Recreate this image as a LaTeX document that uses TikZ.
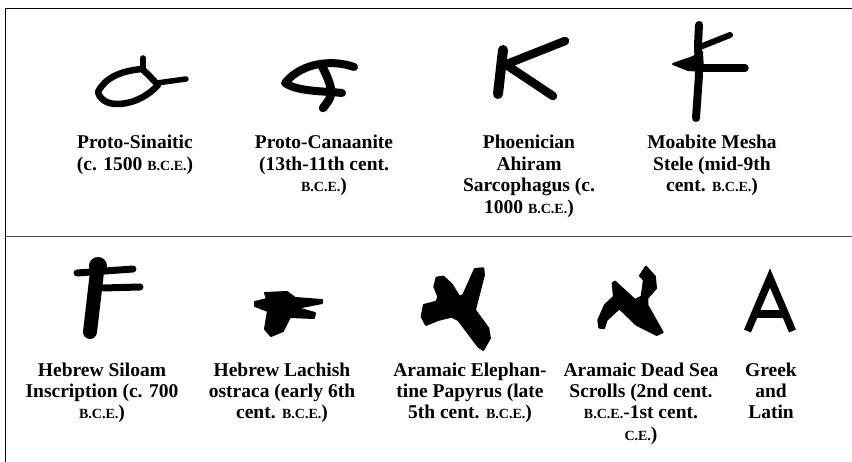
\documentclass[tikz,border=0pt]{standalone}
\usepackage{fontspec}
\setmainfont{Liberation Serif}
\newcommand{\era}[1]{{\fontsize{14}{21}\selectfont #1}}
\begin{document}
\begin{tikzpicture}[x=1pt, y=-1pt]
        \tikzstyle{scriptlabel} = [anchor=base, align=center, inner sep=0pt, font=\fontsize{19.5}{21.5}\selectfont\bfseries]
        \tikzstyle{stroke} = [line width=5pt, line cap=round, line join=round]
        \tikzstyle{blob} = [fill=black, draw=black, line width=2pt, line join=round]
        \useasboundingbox (0, 0) rectangle (852, 462);
        % frame
        \draw[line width=1pt] (852, 9) -- (5, 9) -- (5, 462);
        \draw[line width=1.5pt, black!70] (5, 236.5) -- (852, 236.5);
        % top row
        \draw[stroke, line width=6.5pt] (98, 92) .. controls (105, 78) and (120, 71) .. (142, 69) .. controls (150, 76) and (153, 80) .. (158, 85) .. controls (150, 94) and (135, 104) .. (117, 104) .. controls (108, 104) and (100, 100) .. (98, 92) -- cycle;
        \draw[stroke, line width=5.5pt] (143, 58) -- (143, 68);
        \draw[stroke, line width=5.5pt] (157, 83) -- (186, 79);
        \draw[stroke, line width=8pt] (354, 67) .. controls (335, 60) and (303, 61) .. (285, 83) .. controls (298, 92) and (325, 91) .. (342, 93);
        \draw[stroke, line width=8.5pt] (322, 66) .. controls (328, 78) and (332, 88) .. (331, 94) .. controls (330, 100) and (326, 104) .. (323, 108);
        \draw[stroke, line width=10pt] (503, 50) -- (498, 94);
        \draw[stroke, line width=8.5pt] (507, 64) -- (565, 41);
        \draw[stroke, line width=8.5pt] (508, 66) -- (553, 96);
        \draw[stroke, line width=8pt] (699, 25) -- (698, 45) -- (699, 75) -- (696, 118);
        \draw[stroke, line width=6pt] (700, 47) -- (730, 35);
        \draw[stroke, line width=7.5pt] (700, 68) -- (745, 68);
        \fill[blob] (673, 64) -- (693, 57) -- (702, 52) -- (703, 71) -- (688, 70) -- cycle;
        % bottom row
        \fill[blob] (98, 266) circle (8);
        \draw[stroke, line width=7pt] (77, 273) -- (133, 269);
        \draw[stroke, line width=7pt] (103, 288) -- (140, 287);
        \draw[stroke, line width=14pt] (97, 272) -- (90, 332);
        \fill[blob] (265, 293) -- (287, 292) -- (295, 298) -- (322, 300) -- (322, 303) -- (297, 308) -- (315, 313) -- (314, 318) -- (290, 317) -- (283, 331) -- (271, 336) -- (265, 329) -- (268, 311) -- (255, 306) -- (255, 302) -- (267, 299) -- cycle;
        \begin{scope}[shift={(400, 255)}, x=0.333pt, y=-0.333pt]
          \fill[blob] (110, 68) -- (130, 65) -- (155, 88) -- (178, 125) -- (190, 120) -- (225, 42) -- (250, 40) -- (252, 60) -- (225, 165) -- (265, 220) -- (270, 250) -- (250, 285) -- (235, 275) -- (175, 195) -- (155, 185) -- (115, 195) -- (78, 210) -- (65, 185) -- (72, 150) -- (110, 140) -- (115, 125) -- (103, 95) -- cycle;
        \end{scope}
        \begin{scope}[shift={(590, 255)}, x=0.333pt, y=-0.333pt]
          \fill[blob] (168, 35) -- (195, 65) -- (198, 100) -- (172, 130) -- (172, 150) -- (218, 232) -- (200, 240) -- (140, 210) -- (88, 160) -- (50, 195) -- (42, 220) -- (28, 218) -- (25, 195) -- (45, 150) -- (72, 125) -- (68, 85) -- (75, 80) -- (135, 135) -- (155, 125) -- (162, 75) -- (150, 62) -- cycle;
        \end{scope}
        \draw[line width=7.5pt, line join=miter] (747.5, 331) -- (770, 278) -- (792.5, 331);
        \draw[line width=8pt] (757, 314) -- (783, 314);
        % labels
        \node[scriptlabel] (PS) at (135, 170.5) {Proto-Sinaitic\\(c. 1500 \era{B.C.E.})};
        \node[scriptlabel] (PC) at (324, 192) {Proto-Canaanite\\(13th-11th cent.\\\era{B.C.E.})};
        \node[scriptlabel] (PA) at (529, 213.5) {Phoenician\\Ahiram\\Sarcophagus (c.\\1000 \era{B.C.E.})};
        \node[scriptlabel] (MM) at (712, 192) {Moabite Mesha\\Stele (mid-9th\\cent. \era{B.C.E.})};
        \node[scriptlabel] (HS) at (102, 419) {Hebrew Siloam\\Inscription (c. 700\\\era{B.C.E.})};
        \node[scriptlabel] (HL) at (282, 419) {Hebrew Lachish\\ostraca (early 6th\\cent. \era{B.C.E.})};
        \node[scriptlabel] (AE) at (470, 419) {Aramaic Elephan-\\tine Papyrus (late\\5th cent. \era{B.C.E.})};
        \node[scriptlabel] (AD) at (641, 440.5) {Aramaic Dead Sea\\Scrolls (2nd cent.\\\era{B.C.E.}-1st cent.\\\era{C.E.})};
        \node[scriptlabel] (GL) at (771, 419) {Greek\\and\\Latin};
      \end{tikzpicture}
\end{document}
